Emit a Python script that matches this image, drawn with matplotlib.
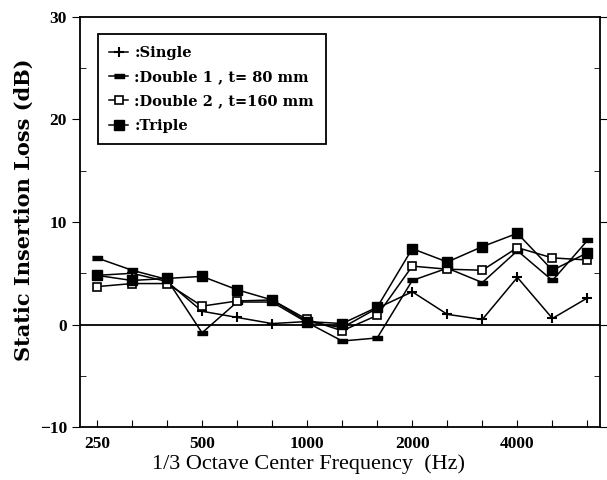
import numpy as np
import matplotlib.pyplot as plt
from matplotlib.ticker import MultipleLocator

freqs = [250, 315, 400, 500, 630, 800, 1000, 1250, 1600, 2000, 2500, 3150, 4000, 5000, 6300]
tick_labels = ["250", "", "", "500", "", "", "1000", "", "", "2000", "", "", "4000", "", ""]

single = [4.8, 5.0, 4.2, 1.3, 0.7, 0.1, 0.3, -0.3, 1.6, 3.2, 1.0, 0.5, 4.6, 0.6, 2.6]
double1 = [6.5, 5.3, 4.4, -0.8, 2.2, 2.2, 0.2, -1.6, -1.3, 4.3, 5.5, 4.1, 7.2, 4.3, 8.2]
double2 = [3.7, 4.0, 4.0, 1.8, 2.3, 2.4, 0.5, -0.6, 0.9, 5.7, 5.4, 5.3, 7.5, 6.5, 6.3]
triple = [4.8, 4.3, 4.5, 4.7, 3.4, 2.4, 0.3, 0.1, 1.7, 7.4, 6.1, 7.6, 8.9, 5.3, 7.0]


def main():
    plt.rcParams['font.family'] = ['Liberation Serif', 'DejaVu Serif']
    plt.rcParams['font.weight'] = 'bold'

    x = np.arange(len(freqs))
    bar_marker = [(-1, -0.35), (1, -0.35), (1, 0.35), (-1, 0.35)]

    fig = plt.figure(figsize=(6.07, 4.8), dpi=100)
    ax = fig.add_axes([0.132, 0.110, 0.856, 0.855])

    ax.axhline(0, color="black", lw=1.3)
    ax.plot(x, single, color="black", lw=1.1, marker="+", ms=7, mew=1.5, label=":Single")
    ax.plot(x, double1, color="black", lw=1.1, marker=bar_marker, ms=7, label=":Double 1 , t= 80 mm")
    ax.plot(x, double2, color="black", lw=1.1, marker="s", ms=6, mfc="white", mew=1.2,
            label=":Double 2 , t=160 mm")
    ax.plot(x, triple, color="black", lw=1.1, marker="s", ms=6.5, label=":Triple")

    ax.set_xlim(-0.48, 14.35)
    ax.set_ylim(-10, 30)
    ax.set_xticks(x)
    ax.set_xticklabels(tick_labels)
    ax.yaxis.set_major_locator(MultipleLocator(10))
    ax.yaxis.set_minor_locator(MultipleLocator(5))
    ax.tick_params(axis="x", direction="in", length=5, labelsize=12.5, pad=6)
    ax.tick_params(axis="y", which="major", direction="out", length=6, labelsize=12.5, right=True)
    ax.tick_params(axis="y", which="minor", direction="in", length=4, right=True)
    for s in ax.spines.values():
        s.set_linewidth(1.3)

    ax.set_xlabel("1/3 Octave Center Frequency  (Hz)", fontsize=16)
    ax.xaxis.set_label_coords(0.44, -0.067)
    ax.set_ylabel("Static Insertion Loss (dB)", fontsize=15,
                  family=["DejaVu Serif"], fontweight="bold")
    ax.yaxis.set_label_coords(-0.09, 0.53)

    leg = ax.legend(loc="upper left", bbox_to_anchor=(0.02, 0.975), handlelength=1.3,
                    handletextpad=0.4, borderpad=0.8, labelspacing=0.7, fancybox=False,
                    edgecolor="black", framealpha=1,
                    prop={"family": "DejaVu Serif", "weight": "bold", "size": 10.5})
    leg.get_frame().set_linewidth(1.3)

    fig.savefig("out.png", dpi=100)


if __name__ == '__main__':
    main()
